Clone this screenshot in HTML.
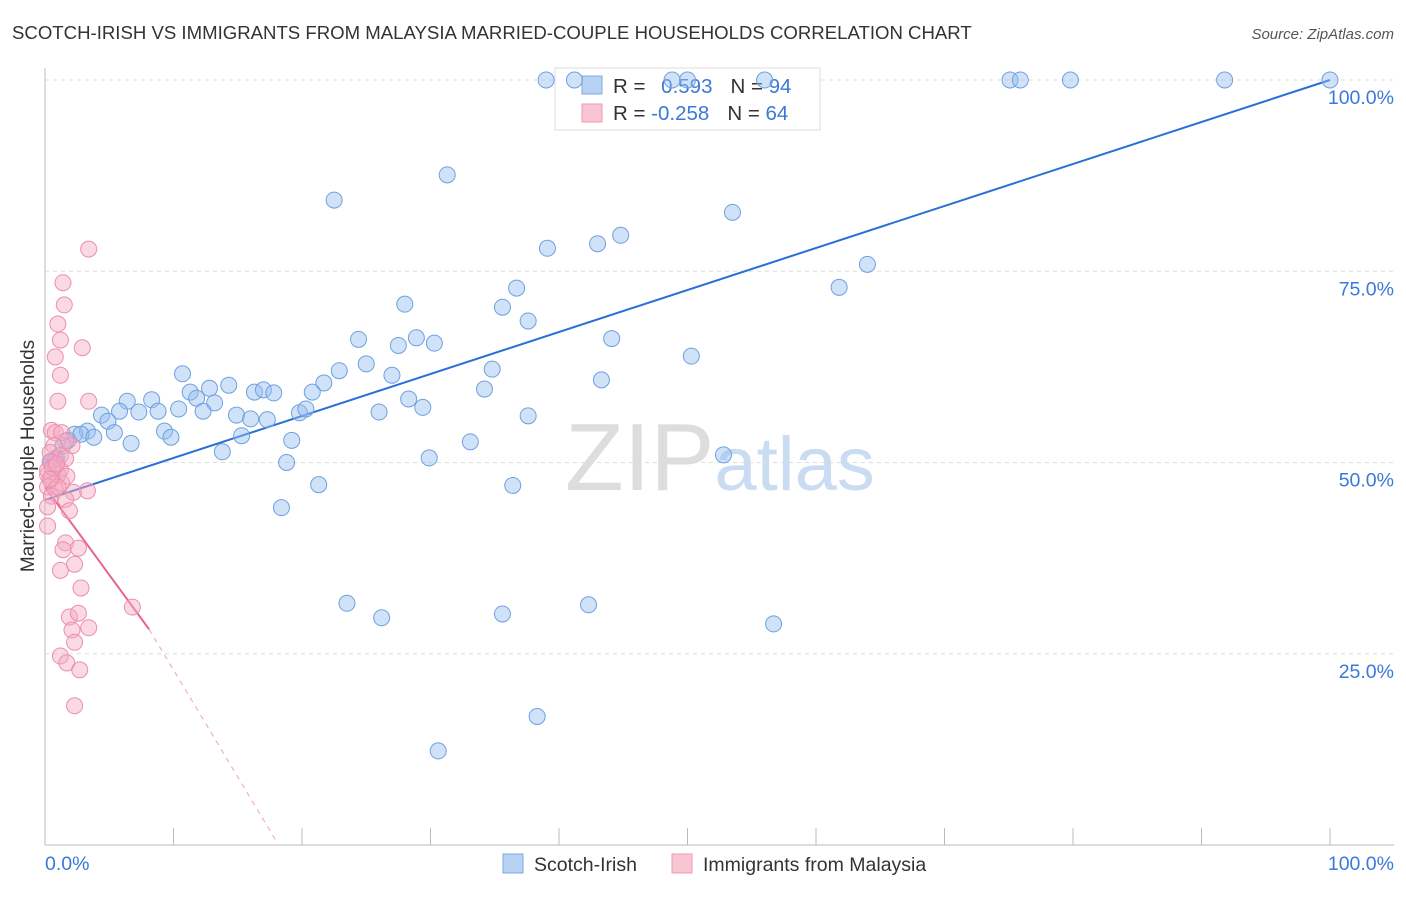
<!DOCTYPE html>
<html><head><meta charset="utf-8"><style>
body{margin:0;background:#fff;font-family:"Liberation Sans",sans-serif}
svg text{font-family:"Liberation Sans",sans-serif}
</style></head><body>
<svg id="chart" width="1406" height="892" xmlns="http://www.w3.org/2000/svg">
<text x="12" y="39" font-size="18.6" fill="#333">SCOTCH-IRISH VS IMMIGRANTS FROM MALAYSIA MARRIED-COUPLE HOUSEHOLDS CORRELATION CHART</text>
<text x="1394" y="39" font-size="15" fill="#555" text-anchor="end" font-style="italic">Source: ZipAtlas.com</text>
<text x="720" y="490" font-size="96" fill="#ddd" text-anchor="middle" font-family="Liberation Serif">ZIP<tspan fill="#c9dcf2" font-family="Liberation Sans" font-size="76">atlas</tspan></text>
<text transform="translate(34,456) rotate(-90)" font-size="19" fill="#333" text-anchor="middle">Married-couple Households</text>
<line x1="45" y1="845" x2="1394" y2="845" stroke="#bbb"/>
<line x1="45" y1="68" x2="45" y2="845" stroke="#bbb"/>
<g id="grid"></g><g id="ticks"></g>
<g>
<rect x="555" y="68" width="265" height="62" fill="#fff" stroke="#ddd"/>
<rect x="582" y="76" width="20" height="18" fill="#b8d2f3" stroke="#7ea8e3"/>
<rect x="582" y="104" width="20" height="18" fill="#f8c5d3" stroke="#ec9ab2"/>
<text x="613" y="93" font-size="20.5" fill="#333">R = <tspan fill="#3b78d8" dx="10">0.593</tspan><tspan dx="18" fill="#333">N = </tspan><tspan fill="#3b78d8">94</tspan></text>
<text x="613" y="120" font-size="20.5" fill="#333">R = <tspan fill="#3b78d8">-0.258</tspan><tspan dx="18" fill="#333">N = </tspan><tspan fill="#3b78d8">64</tspan></text>
</g>
<g id="trend"></g><g id="pts"></g>
<text x="45" y="870" font-size="19.5" fill="#3b78d8">0.0%</text>
<text x="1394" y="870" font-size="19.5" fill="#3b78d8" text-anchor="end">100.0%</text>
<g>
<rect x="503" y="854" width="20" height="19" fill="#b8d2f3" stroke="#7ea8e3"/>
<text x="534" y="871" font-size="19.5" fill="#333">Scotch-Irish</text>
<rect x="672" y="854" width="20" height="19" fill="#f8c5d3" stroke="#ec9ab2"/>
<text x="703" y="871" font-size="19.5" fill="#333">Immigrants from Malaysia</text>
</g>
</svg>
<script>
const yTicks=[25,50,75,100];
const xTicks=[0,10,20,30,40,50,60,70,80,90,100];
const blueX=[39.0,41.2,48.8,50.0,56.0,75.1,75.9,79.8,91.8,100,31.3,22.5,53.5,39.1,43.0,44.8,64.0,61.8,36.7,28.0,35.6,37.6,24.4,28.9,27.5,30.3,44.1,50.3,25.0,27.0,34.8,43.3,10.7,22.9,21.7,34.2,11.3,12.8,14.3,16.3,17.0,17.8,20.8,28.3,29.4,26.0,11.8,6.4,8.3,13.2,4.4,5.8,7.3,8.8,10.4,12.3,14.9,16.0,17.3,19.8,20.3,37.6,4.9,3.3,2.3,2.8,5.4,9.3,9.8,3.8,15.3,19.2,33.1,6.7,1.8,1.4,13.8,52.8,29.9,18.8,0.9,0.5,21.3,36.4,18.4,23.5,26.2,35.6,42.3,56.7,38.3,30.6,0.4,0.8];
const blueY=[100,100,100,100,100,100,100,100,100,100,87.6,84.3,82.7,78.0,78.6,79.7,75.9,72.9,72.8,70.7,70.3,68.5,66.1,66.3,65.3,65.6,66.2,63.9,62.9,61.4,62.2,60.8,61.6,62.0,60.4,59.6,59.2,59.7,60.1,59.2,59.5,59.1,59.2,58.3,57.2,56.6,58.4,58.0,58.2,57.8,56.2,56.7,56.6,56.7,57.0,56.7,56.2,55.7,55.6,56.5,57.0,56.1,55.4,54.1,53.7,53.7,53.9,54.1,53.3,53.3,53.5,52.9,52.7,52.5,52.9,52.2,51.4,51.0,50.6,50.0,50.6,50.1,47.1,47.0,44.1,31.6,29.7,30.2,31.4,28.9,16.8,12.3,50.1,50.4];
const pinkX=[3.4,1.4,1.5,1.0,1.2,2.9,0.8,1.2,1.0,3.4,0.5,0.8,1.3,2.1,1.6,0.7,0.4,1.2,1.6,0.4,0.8,1.2,0.2,0.5,1.0,1.3,0.2,0.8,3.3,2.2,0.5,1.6,0.2,1.9,0.2,1.6,2.6,1.4,2.3,1.2,2.8,6.8,1.9,2.6,2.1,3.4,2.3,1.2,1.7,2.7,2.3,0.2,0.6,0.9,1.7,1.0,0.4];
const pinkY=[77.9,73.5,70.6,68.1,66.0,65.0,63.8,61.4,58.0,58.0,54.2,53.9,53.9,52.2,52.8,52.2,51.3,50.9,50.5,50.1,49.5,49.0,48.4,48.0,48.4,47.3,46.8,46.5,46.3,46.1,45.6,45.2,44.2,43.7,41.7,39.5,38.8,38.6,36.7,35.9,33.6,31.1,29.8,30.3,28.1,28.4,26.5,24.7,23.8,22.9,18.2,49.0,49.3,49.8,48.2,46.8,47.8];
const blueTrend=[0,45.1,100,100];
const pinkTrend=[0,46.8,8.1,28.2,18,0.5];
const NS="http://www.w3.org/2000/svg";
const X0=45,X1=1330,Y0=845,Y100=80;
const sx=v=>X0+(X1-X0)*v/100, sy=v=>Y0-(Y0-Y100)*v/100;
function mk(t,a,p){const e=document.createElementNS(NS,t);for(const k in a)e.setAttribute(k,a[k]);p.appendChild(e);return e;}
const grid=document.getElementById('grid');
yTicks.forEach(t=>{
 const l=mk('line',{x1:45,x2:1394,y1:sy(t),y2:sy(t),stroke:'#ddd','stroke-dasharray':'4 4'},grid);
 
 
 const tx=mk('text',{x:1394,y:sy(t)+24,'font-size':19.5,fill:'#3b78d8','text-anchor':'end'},grid);
 tx.textContent=t.toFixed(1)+'%';
 
 
});
const ticks=document.getElementById('ticks');
xTicks.forEach(t=>{
 const l=mk('line',{x1:sx(t),x2:sx(t),y1:828,y2:845,stroke:'#bbb'},ticks);
 
 
});
const pts=document.getElementById('pts');
blueX.forEach((v,i)=>{
 const c=mk('circle',{cx:sx(v),cy:sy(blueY[i]),r:8,fill:'rgba(150,190,240,0.45)',stroke:'#6fa0e0','stroke-width':1},pts);
 
 
});
pinkX.forEach((v,i)=>{
 const c=mk('circle',{cx:sx(v),cy:sy(pinkY[i]),r:8,fill:'rgba(245,170,195,0.45)',stroke:'#ec8fab','stroke-width':1},pts);
 
 
});
const tr=document.getElementById('trend');
const bl=mk('line',{x1:sx(blueTrend[0]),y1:sy(blueTrend[1]),x2:sx(blueTrend[2]),y2:sy(blueTrend[3]),stroke:'#2a6fd6','stroke-width':2},tr);


const pl=mk('line',{x1:sx(pinkTrend[0]),y1:sy(pinkTrend[1]),x2:sx(pinkTrend[2]),y2:sy(pinkTrend[3]),stroke:'#e8648f','stroke-width':2},tr);


const pd=mk('line',{x1:sx(pinkTrend[2]),y1:sy(pinkTrend[3]),x2:sx(pinkTrend[4]),y2:sy(pinkTrend[5]),stroke:'#eea0b8','stroke-width':1,'stroke-dasharray':'5 5'},tr);


</script>
</body></html>
